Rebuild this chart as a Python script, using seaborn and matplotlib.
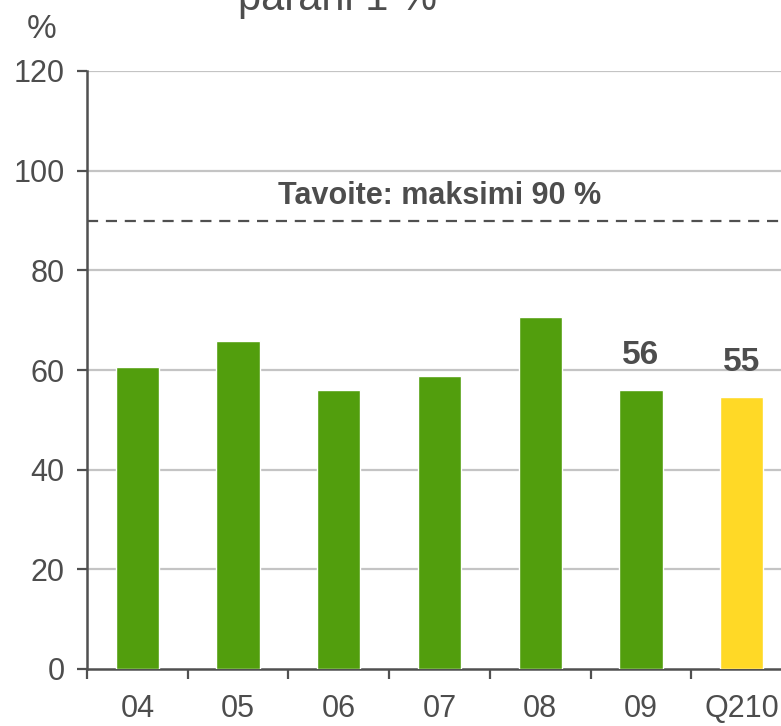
import matplotlib
matplotlib.use("Agg")
import matplotlib.pyplot as plt
import seaborn as sns
import pandas as pd

categories = ["04", "05", "06", "07", "08", "09", "Q210"]
values = [60.6, 65.8, 56.0, 58.8, 70.6, 56.0, 54.6]
bar_colors = ["#529E0D"] * 6 + ["#FFD926"]
labelled = {"09": "56", "Q210": "55"}
target = 90
target_label = "Tavoite: maksimi 90 %"
yticks = [0, 20, 40, 60, 80, 100, 120]
title_text = "parani 1 %"

sns.set_theme(style="white")
plt.rcParams["font.family"] = ["Liberation Sans", "DejaVu Sans"]
TXT = "#4D4D4D"

df = pd.DataFrame({"cat": categories, "val": values})

fig = plt.figure(figsize=(7.81, 7.26), dpi=100)
ax = fig.add_axes([87 / 781, 1 - 669 / 726, 1 - 87 / 781, (669 - 71) / 726])

sns.barplot(data=df, x="cat", y="val", hue="cat", palette=bar_colors,
            width=0.43, legend=False, ax=ax, saturation=1, zorder=3)

ax.set_ylim(0, 120)
ax.set_xlim(-0.5, 6.39)
ax.set_yticks(yticks)
ax.set_yticklabels([str(t) for t in yticks])
for t in yticks[1:]:
    ax.axhline(t, color="#C4C4C4", lw=1.6, zorder=1)

ax.axhline(target, color="#505050", lw=1.6, ls=(0, (5, 3.5)), zorder=4)
ax.text(3.0, 93.3, target_label, ha="center", va="baseline",
        fontsize=22, fontweight="bold", color=TXT)

for i, c in enumerate(categories):
    if c in labelled:
        ax.text(i, values[i] + 5.2, labelled[c], ha="center", va="baseline",
                fontsize=24, fontweight="bold", color=TXT)

ax.set_xlabel("")
ax.set_ylabel("")
ax.set_xticks(range(len(categories)))
ax.set_xticklabels(categories)
ax.set_xticks([i - 0.5 for i in range(len(categories))], minor=True)
ax.tick_params(axis="x", which="major", length=0, pad=18, labelsize=22, labelcolor=TXT)
ax.tick_params(axis="x", which="minor", length=7, width=1.6, color="#505050", direction="out", bottom=True)
ax.tick_params(axis="y", which="major", length=7, width=1.6, color="#505050", direction="out",
               left=True, pad=9, labelsize=22, labelcolor=TXT)

for s in ["top", "right"]:
    ax.spines[s].set_visible(False)
for s in ["left", "bottom"]:
    ax.spines[s].set_color("#505050")
    ax.spines[s].set_linewidth(1.8)

fig.text(42 / 781, 1 - 29 / 726, "%", ha="center", va="center", fontsize=24, color=TXT)
fig.text(337 / 781, 1 - 10 / 726, title_text, ha="center", va="baseline", fontsize=30, color=TXT)

fig.savefig("out.png", dpi=100)
